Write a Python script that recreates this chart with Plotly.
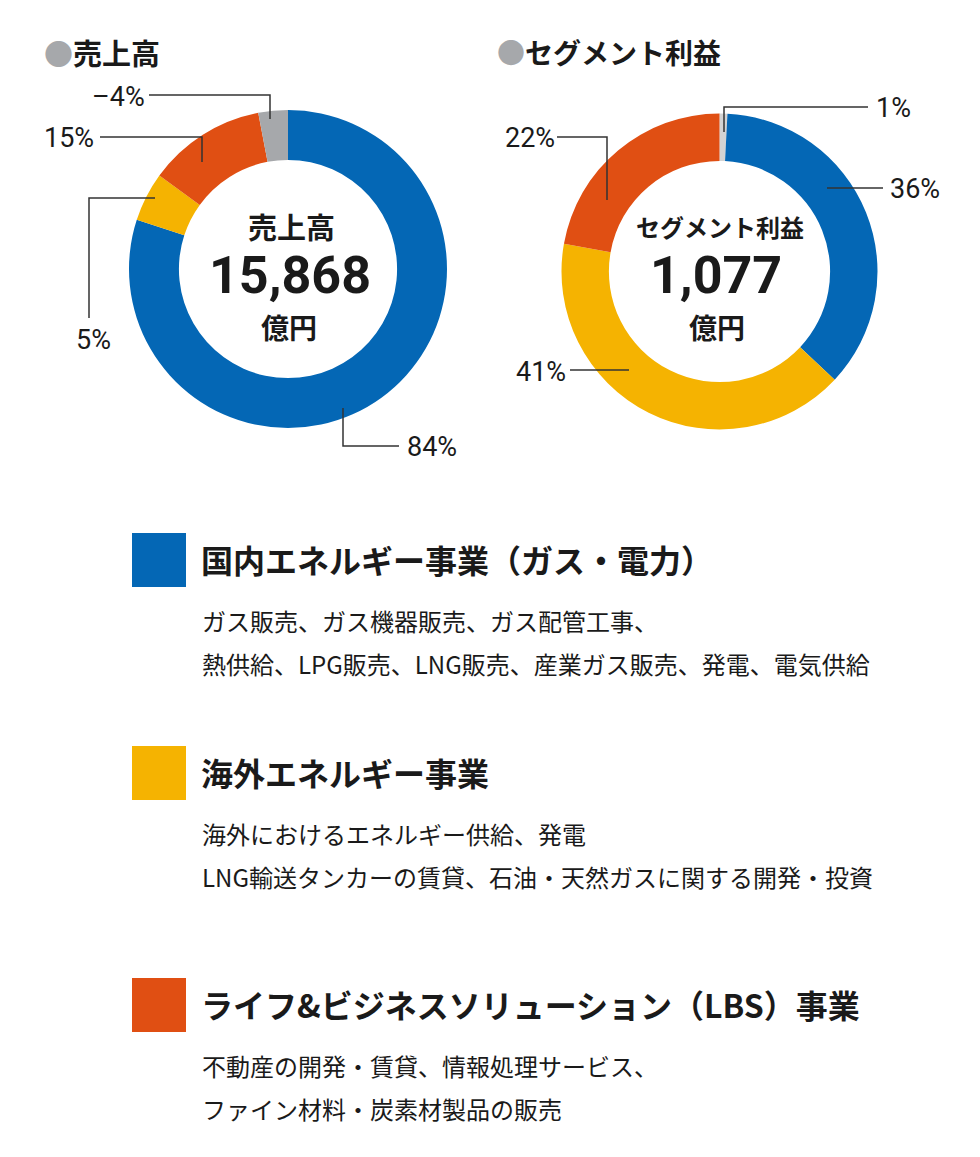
import plotly.graph_objects as go

W, H = 980, 1157
OFF = 8  # page body margin in the screenshot

# segment order: 国内エネルギー, 海外エネルギー, LBS, 調整
SEGMENTS = ["国内エネルギー事業", "海外エネルギー事業", "LBS事業", "調整額"]
SEG_COLORS = ["#0467b5", "#f5b301", "#e04f13"]

# 売上高 (slice shares read from the ring) and printed labels
SALES_SHARE = [80, 5, 12, 3]
SALES_LABELS = ["84%", "5%", "15%", "–4%"]
SALES_TOTAL = "15,868"

# セグメント利益: the 1% slice sits first, right after 12 o'clock
PROFIT_ORDER = ["調整額", "国内エネルギー事業", "海外エネルギー事業", "LBS事業"]
PROFIT_SHARE = [0.8, 36.2, 40.8, 22.2]
PROFIT_LABELS = ["1%", "36%", "41%", "22%"]
PROFIT_TOTAL = "1,077"

LEGEND_TITLES = [
    "国内エネルギー事業（ガス・電力）",
    "海外エネルギー事業",
    "ライフ&ビジネスソリューション（LBS）事業",
]
LEGEND_LINES = [
    ["ガス販売、ガス機器販売、ガス配管工事、",
     "熱供給、LPG販売、LNG販売、産業ガス販売、発電、電気供給"],
    ["海外におけるエネルギー供給、発電",
     "LNG輸送タンカーの賃貸、石油・天然ガスに関する開発・投資"],
    ["不動産の開発・賃貸、情報処理サービス、",
     "ファイン材料・炭素材製品の販売"],
]

JP = "Noto Sans CJK JP"
NUM = "Roboto"
INK = "#1a1a1a"


def px(x):
    return (x - OFF) / W


def py(y):
    return 1 - (y - OFF) / H


def domain(cx, cy, r):
    return dict(x=[px(cx - r), px(cx + r)], y=[py(cy + r), py(cy - r)])


fig = go.Figure()

fig.add_trace(go.Pie(
    labels=SEGMENTS,
    values=SALES_SHARE,
    marker=dict(colors=SEG_COLORS + ["#a6a8ab"], line=dict(width=0)),
    hole=0.686,
    sort=False,
    direction="clockwise",
    textinfo="none",
    domain=domain(288, 269, 159),
))
fig.add_trace(go.Pie(
    labels=PROFIT_ORDER,
    values=PROFIT_SHARE,
    marker=dict(colors=["#d3d3d3"] + SEG_COLORS, line=dict(width=0)),
    hole=0.70,
    sort=False,
    direction="clockwise",
    textinfo="none",
    domain=domain(719.5, 271.5, 158),
))

shapes = []
annotations = []


def leader(points, text, tx, ty, anchor):
    path = "M " + " L ".join(f"{px(x)},{py(y)}" for x, y in points)
    shapes.append(dict(type="path", path=path, xref="paper", yref="paper",
                       line=dict(color="#333333", width=1.5)))
    annotations.append(dict(x=px(tx), y=py(ty), xref="paper", yref="paper",
                            text=text, showarrow=False, xanchor=anchor,
                            yanchor="middle", borderpad=0,
                            font=dict(family=NUM, size=27, color=INK)))


# 売上高 leaders: blue, yellow, orange, gray
leader([(343, 408), (343, 446), (399, 446)], SALES_LABELS[0], 406, 447, "left")
leader([(155, 198), (89, 198), (89, 318)], SALES_LABELS[1], 93, 340, "center")
leader([(100, 137), (202, 137), (202, 162)], SALES_LABELS[2], 95, 138, "right")
leader([(149, 95), (270, 95), (270, 119)], SALES_LABELS[3], 146, 97, "right")

# セグメント利益 leaders: gray, blue, yellow, orange
leader([(724, 132), (724, 107), (868, 107)], PROFIT_LABELS[0], 875, 108, "left")
leader([(827, 188), (883, 188)], PROFIT_LABELS[1], 889, 189, "left")
leader([(570, 370), (629, 370)], PROFIT_LABELS[2], 567, 372, "right")
leader([(557, 137), (607, 137), (607, 200)], PROFIT_LABELS[3], 556, 138, "right")


def text(x, y, s, size, anchor="left", family=JP, weight="normal"):
    annotations.append(dict(x=px(x), y=py(y), xref="paper", yref="paper",
                            text=s, showarrow=False, xanchor=anchor,
                            yanchor="middle", borderpad=0,
                            font=dict(family=family, size=size, color=INK,
                                      weight=weight)))


# section titles
dot = '<span style="color:#a6a8ab">●</span>'
text(43, 52, dot + "売上高", 29, weight="bold")
text(496, 52, dot + "セグメント利益", 28, weight="bold")

# donut centres
text(291, 226, "売上高", 29, "center", weight="bold")
text(290, 276, SALES_TOTAL, 52, "center", NUM, "bold")
text(289, 327, "億円", 28, "center", weight="bold")
text(720, 226, "セグメント利益", 24, "center", weight="bold")
text(716, 276, PROFIT_TOTAL, 52, "center", NUM, "bold")
text(717, 327, "億円", 28, "center", weight="bold")

# legend blocks
block_tops = [533, 746, 978]
for i, top in enumerate(block_tops):
    shapes.append(dict(type="rect", xref="paper", yref="paper",
                       x0=px(132), x1=px(186), y0=py(top + 54), y1=py(top),
                       fillcolor=SEG_COLORS[i], line=dict(width=0)))
    text(200, top + 26, LEGEND_TITLES[i], 32, weight="bold")
    for j, line in enumerate(LEGEND_LINES[i]):
        text(201, top + 87 + 43 * j, line, 24)

fig.update_layout(
    width=W,
    height=H,
    margin=dict(l=0, r=0, t=0, b=0),
    paper_bgcolor="white",
    plot_bgcolor="white",
    showlegend=False,
    shapes=shapes,
    annotations=annotations,
)

fig.write_html("out.html")
